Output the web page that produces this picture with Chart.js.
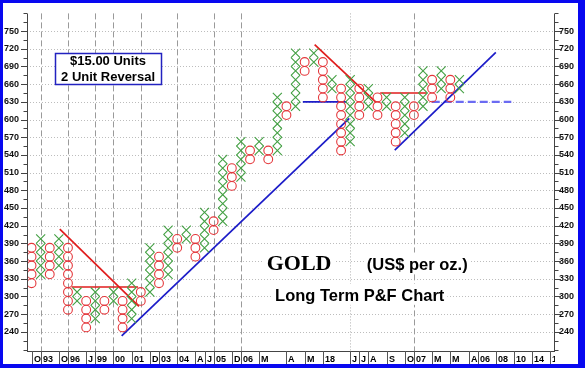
<!DOCTYPE html>
<html>
<head>
<meta charset="utf-8">
<script src="https://cdn.jsdelivr.net/npm/chart.js@4.4.1/dist/chart.umd.min.js"></script>
<style>
  html, body { margin: 0; padding: 0; background: #fff; }
  #wrap { width: 585px; height: 368px; }
</style>
</head>
<body>
<div id="wrap"><canvas id="pf" width="585" height="368"></canvas></div>
<script>
// Point & figure columns, $15 boxes, 2 unit reversal
// kind, top of highest box, bottom of lowest box
const colKind = ['O','X','O','X','O','X','O','X','O','X','O','X','O','X','O','X',
                 'O','X','O','X','O','X','O','X','O','X','O','X','O','X','O','X',
                 'O','X','O','X','O','X','O','X','O','X','O','X','O','X','O','X'];
const colHigh = [390,405,390,405,390,315,300,315,300,315,300,330,315,390,375,420,
                 405,420,405,450,435,540,525,570,555,570,555,645,630,720,705,720,
                 705,675,660,675,660,660,645,645,630,645,630,690,675,690,675,675];
const colLow  = [315,330,330,345,270,285,240,255,270,285,240,255,285,300,315,330,
                 375,390,360,375,405,420,480,495,525,540,525,540,600,615,675,690,
                 630,645,540,555,600,615,600,615,555,570,600,615,630,645,630,645];
const boxSize = 15;

// trend lines as [column, price] end points
const redLines = [
  [[3.1, 414], [11.8, 283]],
  [[4.4, 316], [11.7, 316]],
  [[31.1, 727], [37.85, 629]],
  [[38.3, 645], [43.4, 645]]
];
const blueLines = [
  [[9.9, 233], [34.9, 602]],
  [[29.8, 630], [34.6, 630]],
  [[39.9, 548], [51.0, 714]]
];
const blueDashed = [[43.96, 630], [52.7, 630]];

// axis ticks and labels
const yLabels = [240,270,300,330,360,390,420,450,480,510,540,570,600,630,660,690,720,750];
const xLabelCols = [0,1,3,4,6,7,9,11,13,14,16,18,19,20,22,23,25,28,30,32,35,36,37,39,41,42,44,46,48,49,51,53,55,57];
const xLabelText = ['O','93','O','96','J','99','00','01','D','03','04','A','J','05','D','06','M','A','M','18',
                    'J','J','A','S','O','07','M','M','A','06','08','10','14','1'];
const dashedCols = [1,4,7,9,12,16,20,23,42];
const dottedCols = [35];

const xPts = [], oPts = [];
colKind.forEach((k, i) => {
  for (let p = colLow[i]; p < colHigh[i]; p += boxSize) {
    (k === 'X' ? xPts : oPts).push({ x: i, y: p + boxSize / 2 });
  }
});

function lineSet(pts, color, width, dash) {
  return {
    type: 'line',
    data: pts.map(p => ({ x: p[0], y: p[1] })),
    borderColor: color,
    borderWidth: width,
    borderDash: dash || [],
    pointRadius: 0,
    showLine: true,
    fill: false
  };
}

const datasets = [
  { data: xPts, pointStyle: 'crossRot', pointRadius: 6.4, borderColor: '#44a044',
    borderWidth: 1.1, backgroundColor: 'transparent' },
  { data: oPts, pointStyle: 'circle', pointRadius: 4.4, borderColor: '#e4383c',
    borderWidth: 1.1, backgroundColor: 'transparent' }
];
redLines.forEach(l => datasets.push(lineSet(l, '#e01c1c', 1.7)));
blueLines.forEach(l => datasets.push(lineSet(l, '#1c1cc8', 1.7)));
datasets.push(lineSet(blueDashed, '#6b6bf2', 2.2, [8, 4]));

const FONT = "'Liberation Sans', Arial, sans-serif";

const pfDecor = {
  id: 'pfDecor',
  beforeDraw(chart) {
    const c = chart.ctx;
    c.save();
    c.fillStyle = '#0808f0';
    c.fillRect(0, 0, chart.width, chart.height);
    c.fillStyle = '#ffffff';
    c.fillRect(3, 3, 575, 361);
    c.restore();
  },
  beforeDatasetsDraw(chart) {
    const c = chart.ctx, a = chart.chartArea;
    const xs = chart.scales.x, ys = chart.scales.y;
    c.save();
    c.lineWidth = 1;
    // horizontal dotted grid
    c.strokeStyle = '#bdbdbd';
    c.setLineDash([1, 2]);
    yLabels.forEach(v => {
      const y = Math.round(ys.getPixelForValue(v)) + 0.5;
      c.beginPath(); c.moveTo(a.left, y); c.lineTo(a.right, y); c.stroke();
    });
    // vertical grid
    c.strokeStyle = '#9a9a9a';
    c.setLineDash([6, 3]);
    dashedCols.forEach(col => {
      const x = Math.round(xs.getPixelForValue(col)) + 0.5;
      c.beginPath(); c.moveTo(x, a.top); c.lineTo(x, a.bottom); c.stroke();
    });
    c.strokeStyle = '#b0b0b0';
    c.setLineDash([1, 2]);
    dottedCols.forEach(col => {
      const x = Math.round(xs.getPixelForValue(col)) + 0.5;
      c.beginPath(); c.moveTo(x, a.top); c.lineTo(x, a.bottom); c.stroke();
    });
    c.restore();
  },
  afterDatasetsDraw(chart) {
    const c = chart.ctx, a = chart.chartArea;
    const xs = chart.scales.x, ys = chart.scales.y;
    const px = v => xs.getPixelForValue(v), py = v => ys.getPixelForValue(v);
    c.save();

    // units box
    const bx = Math.round(px(2.57)) + 0.5, by = Math.round(py(713)) + 0.5;
    const bw = Math.round(px(14.2) - px(2.57)), bh = Math.round(py(660) - py(713));
    c.fillStyle = '#fff';
    c.fillRect(bx, by, bw, bh);
    c.strokeStyle = '#2222c0';
    c.lineWidth = 1.5;
    c.strokeRect(bx, by, bw, bh);
    c.fillStyle = '#000';
    c.font = 'bold 13px ' + FONT;
    c.textAlign = 'center';
    c.textBaseline = 'alphabetic';
    c.fillText('$15.00 Units', px(8.4), py(692));
    c.fillText('2 Unit Reversal', px(8.4), py(665.7));

    // title texts with white background
    c.textAlign = 'left';
    const texts = [
      ['GOLD', "bold 22px 'Liberation Serif', 'Times New Roman', serif", 25.83, 345.7],
      ['(US$ per oz.)', 'bold 16.5px ' + FONT, 36.83, 345.7],
      ['Long Term P&F Chart', 'bold 16.5px ' + FONT, 26.75, 292.6]
    ];
    texts.forEach(t => {
      c.font = t[1];
      const w = c.measureText(t[0]).width;
      const x = px(t[2]), y = py(t[3]);
      c.fillStyle = '#fff';
      c.fillRect(x - 3, y - 17, w + 6, 21);
      c.fillStyle = '#000';
      c.fillText(t[0], x, y);
    });

    // axis lines and ticks
    c.strokeStyle = '#444';
    c.lineWidth = 1;
    c.beginPath();
    c.moveTo(a.left + 0.5, a.top); c.lineTo(a.left + 0.5, a.bottom);
    c.moveTo(a.right - 0.5, a.top); c.lineTo(a.right - 0.5, a.bottom);
    c.moveTo(a.left, a.bottom + 0.5); c.lineTo(a.right, a.bottom + 0.5);
    c.stroke();
    c.beginPath();
    for (let v = 210; v <= 780; v += 15) {
      const y = Math.round(py(v)) + 0.5;
      const len = yLabels.includes(v) ? 6 : 3.5;
      c.moveTo(a.left - len, y); c.lineTo(a.left, y);
      c.moveTo(a.right, y); c.lineTo(a.right + len, y);
    }
    c.stroke();

    // bottom date row
    c.save();
    c.beginPath();
    c.rect(a.left, a.bottom, a.right - a.left, 14);
    c.clip();
    c.strokeStyle = '#555';
    c.fillStyle = '#000';
    c.font = 'bold 9px ' + FONT;
    c.textAlign = 'left';
    xLabelCols.forEach((col, i) => {
      const x = Math.round(px(col)) + 0.5;
      c.beginPath(); c.moveTo(x, a.bottom); c.lineTo(x, a.bottom + 13); c.stroke();
      c.fillText(xLabelText[i], x + 1.5, a.bottom + 11);
    });
    c.restore();
    c.restore();
  }
};

const tickFont = { family: FONT, size: 9, weight: 'bold' };

new Chart(document.getElementById('pf'), {
  type: 'scatter',
  data: { datasets: datasets },
  options: {
    responsive: false,
    animation: false,
    events: [],
    layout: { padding: { top: 3, bottom: 17, left: 0, right: 0 } },
    plugins: { legend: { display: false }, tooltip: { enabled: false } },
    scales: {
      x: { type: 'linear', min: -0.5, max: 57.5, display: false },
      y: {
        type: 'linear', position: 'left', min: 207.5, max: 780,
        afterFit(s) { s.width = 27; },
        afterBuildTicks(s) { s.ticks = yLabels.map(v => ({ value: v })); },
        grid: { display: false, drawTicks: false },
        border: { display: false },
        ticks: { font: tickFont, color: '#111', padding: 8, autoSkip: false }
      },
      y2: {
        type: 'linear', position: 'right', min: 207.5, max: 780,
        afterFit(s) { s.width = 30; },
        afterBuildTicks(s) { s.ticks = yLabels.map(v => ({ value: v })); },
        grid: { display: false, drawTicks: false },
        border: { display: false },
        ticks: { font: tickFont, color: '#111', padding: 4, autoSkip: false }
      }
    }
  },
  plugins: [pfDecor]
});
</script>
</body>
</html>
